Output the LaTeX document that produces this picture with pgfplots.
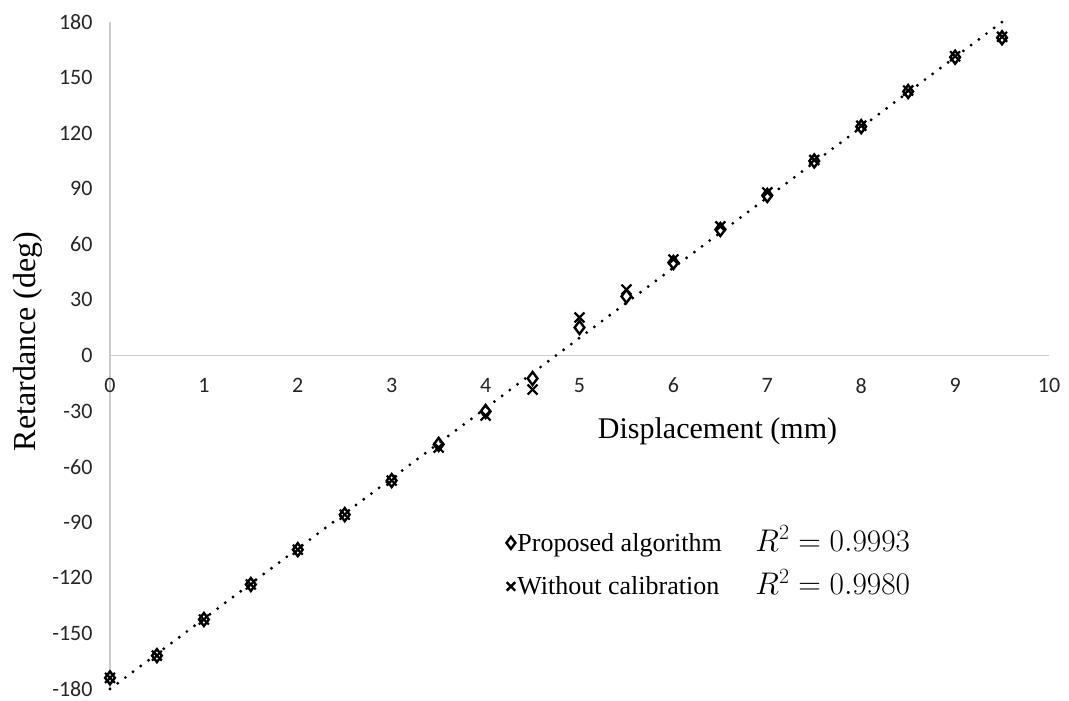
\documentclass[border=0pt]{standalone}
\usepackage{fontspec}
\setmainfont{Liberation Serif}
\newfontfamily\calibri{Carlito}
\usepackage{graphicx}
\usepackage{pgfplots}
\pgfplotsset{compat=1.18}
\begin{document}
\begin{tikzpicture}
\path[use as bounding box] (-110pt,-12pt) rectangle (959pt,689pt);
\begin{axis}[
  at={(0pt,0pt)}, anchor=south west,
  scale only axis, width=939pt, height=667pt,
  xmin=0, xmax=10, ymin=-180, ymax=180,
  axis lines=middle,
  axis line style={draw=black!20, line width=1.2pt, -},
  xtick={0,1,...,10}, ytick={-180,-150,...,180},
  major tick length=0pt,
  hide obscured x ticks=false, hide obscured y ticks=false,
  /pgf/number format/assume math mode=true,
  ticklabel style={font=\calibri\fontsize{22}{26}\selectfont, text=black!85},
  xticklabel style={anchor=north, yshift=-19pt},
  yticklabel style={anchor=east, xshift=-14pt},
  clip=false,
  legend style={at={(0.422,0.237)}, anchor=north west, draw=none, fill=none,
    font=\fontsize{26}{30}\selectfont, row sep=20pt, inner sep=0pt,
    /tikz/every even column/.append style={column sep=11pt}},
  legend cell align=left,
]
\addplot[black, line width=3.2pt, line cap=round, dash pattern=on 0pt off 9.6pt, forget plot]
  coordinates {(0,-180) (9.5,180)};
\addplot[only marks, mark=diamond, mark size=6.5pt, mark options={line width=2.4pt, black, fill=white}, forget plot]
  coordinates {
  (0,-174) (0.5,-162) (1,-142.5) (1.5,-123.6) (2,-104.8) (2.5,-85.9) (3,-67.5)
  (3.5,-48) (4,-30.2) (4.5,-12.4) (5,15.1) (5.5,31.9) (6,50.2) (6.5,68)
  (7,86.4) (7.5,105) (8,123.5) (8.5,142.5) (9,161) (9.5,171.5)};
\addplot[only marks, mark=x, mark size=7pt, mark options={line width=2.2pt, black}, forget plot]
  coordinates {
  (0,-174) (0.5,-162) (1,-142.5) (1.5,-123.6) (2,-104.8) (2.5,-85.9) (3,-67.5)
  (3.5,-49.7) (4,-32.4) (4.5,-18.4) (5,20.5) (5.5,35.6) (6,51.8) (6.5,69.7)
  (7,88) (7.5,105.5) (8,124) (8.5,143) (9,161.5) (9.5,172)};
\addlegendimage{only marks, mark=diamond, mark size=6pt, mark options={line width=2.4pt, black}}
\addlegendentry{\makebox[238pt][l]{Proposed algorithm}\smash{\scalebox{1.26}{$R^2 = 0.9993$}}}
\addlegendimage{only marks, mark=x, mark size=6pt, mark options={line width=2.4pt, black}}
\addlegendentry{\makebox[238pt][l]{Without calibration}\smash{\scalebox{1.26}{$R^2 = 0.9980$}}}
\node[font=\fontsize{30}{34}\selectfont, anchor=base] at (axis cs:6.47,-44.8) {Displacement (mm)};
\node[font=\fontsize{32}{36}\selectfont, rotate=90, anchor=center] at (axis cs:-0.88,7.5) {Retardance (deg)};
\end{axis}
\end{tikzpicture}
\end{document}
